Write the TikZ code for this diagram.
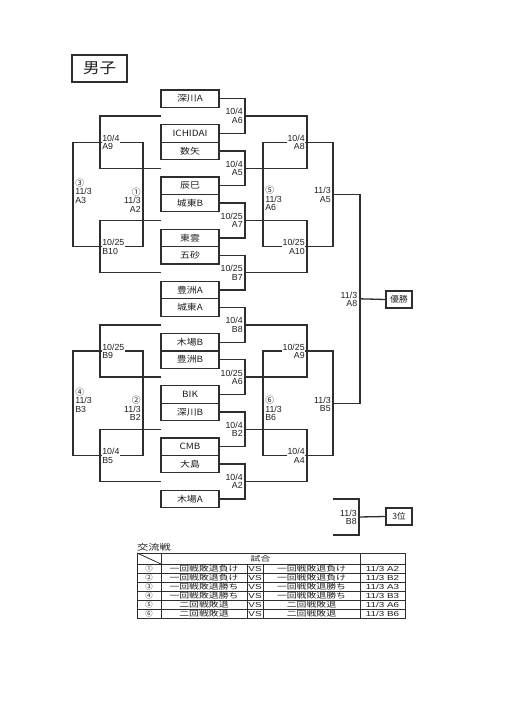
\documentclass[tikz,border=0pt]{standalone}
\usepackage{fontspec}
\usepackage{graphicx}
\setmainfont{Liberation Sans}
\newfontfamily\jp{Noto Sans CJK JP}
\definecolor{lc}{HTML}{2E2E2E}
\definecolor{tc}{HTML}{1E1E1E}
\newcommand{\tname}[1]{\scalebox{1.15}[1]{#1}}
\newcommand{\tabt}[1]{\scalebox{1.35}[1]{#1}}
\begin{document}
\begin{tikzpicture}[x=1pt,y=-1pt,
  ln/.style={draw=lc, line width=1.3pt},
  team/.style={draw=lc, line width=1.3pt, minimum width=58pt, minimum height=17.4pt, inner sep=0pt, text=tc, font=\jp\fontsize{8.6}{8.6}\selectfont},
  lbl/.style={fill=white, inner sep=0.6pt, align=right, text=tc, font=\fontsize{8.8}{8.5}\selectfont},
  lbll/.style={lbl, align=left},
  resbox/.style={draw=lc, line width=1.4pt, minimum width=26pt, minimum height=17pt, inner sep=0pt, text=tc, font=\jp\fontsize{8.6}{8.6}\selectfont},
  tabtext/.style={inner sep=0pt, text=tc, font=\jp\fontsize{7.3}{7.3}\selectfont},
  tabdate/.style={inner sep=0pt, text=tc, font=\fontsize{7.3}{7.3}\selectfont},
]
\useasboundingbox[fill=white] (0,0) rectangle (508,720);

% title
\node[draw=lc, line width=1.8pt, minimum width=55pt, minimum height=27pt, inner sep=0pt, text=tc, font=\jp\fontsize{15}{15}\selectfont] (title) at (99.5,68.5) {\scalebox{1.1}[1]{男子}};

% teams
\node[team] (t0) at (190,98.7) {\tname{深川A}};
\node[team] (t2) at (190,133.5) {\tname{ICHIDAI}};
\node[team] (t3) at (190,150.9) {\tname{数矢}};
\node[team] (t5) at (190,185.7) {\tname{辰巳}};
\node[team] (t6) at (190,203.1) {\tname{城東B}};
\node[team] (t8) at (190,237.9) {\tname{東雲}};
\node[team] (t9) at (190,255.3) {\tname{五砂}};
\node[team] (t11) at (190,290.1) {\tname{豊洲A}};
\node[team] (t12) at (190,307.5) {\tname{城東A}};
\node[team] (t14) at (190,342.3) {\tname{木場B}};
\node[team] (t15) at (190,359.7) {\tname{豊洲B}};
\node[team] (t17) at (190,394.5) {\tname{BIK}};
\node[team] (t18) at (190,411.9) {\tname{深川B}};
\node[team] (t20) at (190,446.7) {\tname{CMB}};
\node[team] (t21) at (190,464.1) {\tname{大島}};
\node[team] (t23) at (190,498.9) {\tname{木場A}};

% result boxes
\node[resbox] (win) at (399,299.5) {優勝};
\node[resbox] (third) at (399,516.5) {3位};

% coordinates
\coordinate (r1a) at (245,116.1);
\coordinate (r1b) at (245,168.3);
\coordinate (r1c) at (245,220.5);
\coordinate (r1d) at (245,272.7);
\coordinate (r1e) at (245,324.9);
\coordinate (r1f) at (245,377.1);
\coordinate (r1g) at (245,429.3);
\coordinate (r1h) at (245,481.5);
\coordinate (r2a) at (307,142.2);
\coordinate (r2b) at (307,246.6);
\coordinate (r2c) at (307,351);
\coordinate (r2d) at (307,455.4);
\coordinate (r3a) at (333,194.4);
\coordinate (r3b) at (333,403.8);
\coordinate (rf) at (360,298.8);
\coordinate (q5) at (263,194.4);
\coordinate (q6) at (263,403.8);
\coordinate (g1) at (161,116.1);
\coordinate (g2) at (161,168.3);
\coordinate (g3) at (161,220.5);
\coordinate (g4) at (161,272.7);
\coordinate (g5) at (161,324.9);
\coordinate (g6) at (161,377.1);
\coordinate (g7) at (161,429.3);
\coordinate (g8) at (161,481.5);
\coordinate (l1a) at (100,142.2);
\coordinate (l1b) at (100,246.6);
\coordinate (l1c) at (100,351);
\coordinate (l1d) at (100,455.4);
\coordinate (p1) at (143,194.4);
\coordinate (p3) at (73,194.4);
\coordinate (p2) at (143,403.8);
\coordinate (p4) at (73,403.8);
\coordinate (s1) at (333,499);
\coordinate (s2) at (333,535);
\coordinate (rb8) at (359,517);

% first round (right of boxes)
\draw[ln] (t0.east) -| (r1a) |- (t2.east);
\draw[ln] (t3.east) -| (r1b) |- (t5.east);
\draw[ln] (t6.east) -| (r1c) |- (t8.east);
\draw[ln] (t9.east) -| (r1d) |- (t11.east);
\draw[ln] (t12.east) -| (r1e) |- (t14.east);
\draw[ln] (t15.east) -| (r1f) |- (t17.east);
\draw[ln] (t18.east) -| (r1g) |- (t20.east);
\draw[ln] (t21.east) -| (r1h) |- (t23.east);
% second round
\draw[ln] (r1a) -| (r2a) |- (r1b);
\draw[ln] (r1c) -| (r2b) |- (r1d);
\draw[ln] (r1e) -| (r2c) |- (r1f);
\draw[ln] (r1g) -| (r2d) |- (r1h);
% third round and 5/6
\draw[ln] (q5 |- r2a) rectangle (r3a |- r2b);
\draw[ln] (q6 |- r2c) rectangle (r3b |- r2d);
% final
\draw[ln] (r3a) -| (rf) |- (r3b);
\draw[ln] (rf) -- (win.west);
% third place
\draw[ln] (s1) -| (rb8) |- (s2);
\draw[ln] (rb8) -- (third.west);
% left (losers)
\draw[ln] (g1) -| (l1a) |- (g2);
\draw[ln] (g3) -| (l1b) |- (g4);
\draw[ln] (g5) -| (l1c) |- (g6);
\draw[ln] (g7) -| (l1d) |- (g8);
\draw[ln] (p3 |- l1a) rectangle (p1 |- l1b);
\draw[ln] (p4 |- l1c) rectangle (p2 |- l1d);

% labels right first round
\node[lbl, anchor=east] (m1) at (243.5,116.1) {10/4\\A6};
\node[lbl, anchor=east] (m2) at (243.5,168.3) {10/4\\A5};
\node[lbl, anchor=east] (m3) at (243.5,220.5) {10/25\\A7};
\node[lbl, anchor=east] (m4) at (243.5,272.7) {10/25\\B7};
\node[lbl, anchor=east] (m5) at (243.5,324.9) {10/4\\B8};
\node[lbl, anchor=east] (m6) at (243.5,377.1) {10/25\\A6};
\node[lbl, anchor=east] (m7) at (243.5,429.3) {10/4\\B2};
\node[lbl, anchor=east] (m8) at (243.5,481.5) {10/4\\A2};
% second round
\node[lbl, anchor=east] (n1) at (305.5,142.6) {10/4\\A8};
\node[lbl, anchor=east] (n2) at (305.5,247) {10/25\\A10};
\node[lbl, anchor=east] (n3) at (305.5,351.4) {10/25\\A9};
\node[lbl, anchor=east] (n4) at (305.5,455.8) {10/4\\A4};
% third
\node[lbl, anchor=east] (o1) at (331.5,194.8) {11/3\\A5};
\node[lbl, anchor=east] (o2) at (331.5,404.2) {11/3\\B5};
\node[lbl, anchor=east] (o3) at (358,299.2) {11/3\\A8};
\node[lbl, anchor=east] (o4) at (357.5,517.5) {11/3\\B8};
% 5 and 6
\node[lbll, anchor=west] (c5) at (264.5,198.5) {{\jp ⑤}\\11/3\\A6};
\node[lbll, anchor=west] (c6) at (264.5,408.5) {{\jp ⑥}\\11/3\\B6};
% left
\node[lbll, anchor=west] (k1) at (101.5,142.6) {10/4\\A9};
\node[lbll, anchor=west] (k2) at (101.5,247) {10/25\\B10};
\node[lbll, anchor=west] (k3) at (101.5,351.4) {10/25\\B9};
\node[lbll, anchor=west] (k4) at (101.5,455.8) {10/4\\B5};
\node[lbll, anchor=west] (c3) at (74.5,191) {{\jp ③}\\11/3\\A3};
\node[lbll, anchor=west] (c4) at (74.5,400) {{\jp ④}\\11/3\\B3};
\node[lbl, anchor=east] (c1) at (141.5,200) {{\jp ①}\\11/3\\A2};
\node[lbl, anchor=east] (c2) at (141.5,408.5) {{\jp ②}\\11/3\\B2};

% table
\node[tabtext, font=\jp\fontsize{8.3}{8.3}\selectfont, anchor=west] (ttl) at (137,547.5) {\tabt{交流戦}};
\draw[ln, line width=1pt] (137,553) rectangle (405,618);
\foreach \yy in {564,573,582,591,600,609} \draw[ln, line width=1pt] (137,\yy) -- (405,\yy);
\draw[ln, line width=1pt] (161,553) -- (161,618);
\draw[ln, line width=1pt] (360,553) -- (360,618);
\draw[ln, line width=1pt] (247,564) -- (247,618);
\draw[ln, line width=1pt] (263,564) -- (263,618);
\draw[ln, line width=0.8pt] (137,553) -- (161,564);
\node[tabtext] (hd) at (260.5,558.5) {\tabt{試合}};

\node[tabtext] (a1) at (149,568.5) {①};
\node[tabtext] (b1) at (204,568.5) {\tabt{一回戦敗退負け}};
\node[tabdate] (v1) at (255,568.5) {\tabt{VS}};
\node[tabtext] (e1) at (311.5,568.5) {\tabt{一回戦敗退負け}};
\node[tabdate] (d1) at (382.5,568.5) {\tabt{11/3 A2}};

\node[tabtext] (a2) at (149,577.5) {②};
\node[tabtext] (b2) at (204,577.5) {\tabt{一回戦敗退負け}};
\node[tabdate] (v2) at (255,577.5) {\tabt{VS}};
\node[tabtext] (e2) at (311.5,577.5) {\tabt{一回戦敗退負け}};
\node[tabdate] (d2) at (382.5,577.5) {\tabt{11/3 B2}};

\node[tabtext] (a3) at (149,586.5) {③};
\node[tabtext] (b3) at (204,586.5) {\tabt{一回戦敗退勝ち}};
\node[tabdate] (v3) at (255,586.5) {\tabt{VS}};
\node[tabtext] (e3) at (311.5,586.5) {\tabt{一回戦敗退勝ち}};
\node[tabdate] (d3) at (382.5,586.5) {\tabt{11/3 A3}};

\node[tabtext] (a4) at (149,595.5) {④};
\node[tabtext] (b4) at (204,595.5) {\tabt{一回戦敗退勝ち}};
\node[tabdate] (v4) at (255,595.5) {\tabt{VS}};
\node[tabtext] (e4) at (311.5,595.5) {\tabt{一回戦敗退勝ち}};
\node[tabdate] (d4) at (382.5,595.5) {\tabt{11/3 B3}};

\node[tabtext] (a5) at (149,604.5) {⑤};
\node[tabtext] (b5) at (204,604.5) {\tabt{二回戦敗退}};
\node[tabdate] (v5) at (255,604.5) {\tabt{VS}};
\node[tabtext] (e5) at (311.5,604.5) {\tabt{二回戦敗退}};
\node[tabdate] (d5) at (382.5,604.5) {\tabt{11/3 A6}};

\node[tabtext] (a6) at (149,613.5) {⑥};
\node[tabtext] (b6) at (204,613.5) {\tabt{二回戦敗退}};
\node[tabdate] (v6) at (255,613.5) {\tabt{VS}};
\node[tabtext] (e6) at (311.5,613.5) {\tabt{二回戦敗退}};
\node[tabdate] (d6) at (382.5,613.5) {\tabt{11/3 B6}};
\end{tikzpicture}
\end{document}
